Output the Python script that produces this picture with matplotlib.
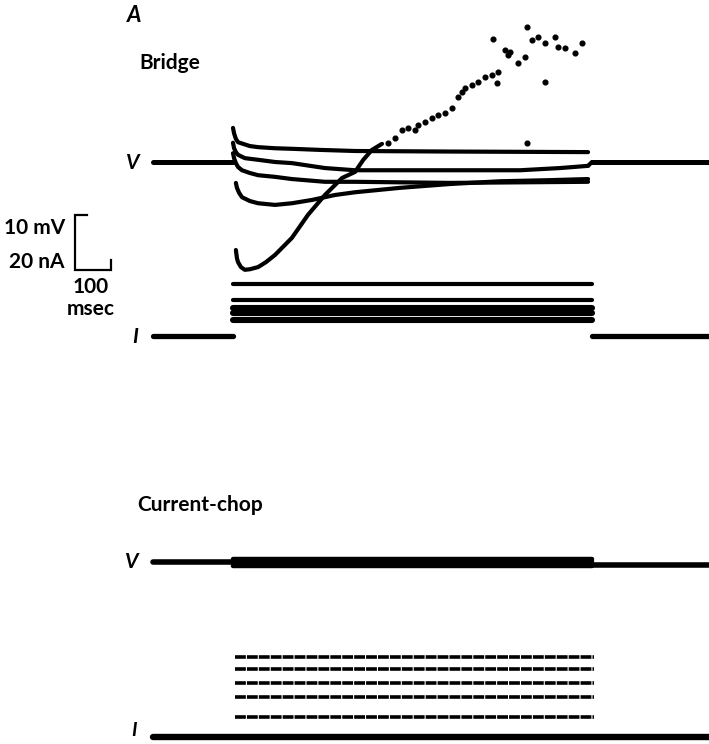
import matplotlib
matplotlib.use("Agg")
import matplotlib.pyplot as plt

# Time in ms from pulse onset, voltage in mV from rest, current in nA
PRE = [-223, 0]
PULSE = [0, 1000]
POST = [1000, 1326]

# Bridge: voltage responses during the current steps
bridge_a_t = [0, 3, 8, 14, 28, 47, 70, 117, 164, 242, 340, 605, 989]
bridge_a_v = [6.2, 5.2, 4.2, 3.6, 3.3, 2.9, 2.7, 2.5, 2.4, 2.2, 2.0, 1.9, 1.8]
bridge_b_t = [0, 3, 8, 14, 33, 70, 117, 164, 215, 256, 340, 605, 800, 911, 989]
bridge_b_v = [3.5, 2.5, 1.8, 1.3, 0.7, 0.4, 0.0, -0.2, -0.7, -1.1, -1.5, -1.5,
              -1.5, -1.1, -0.7]
bridge_c_t = [0, 3, 8, 14, 25, 47, 70, 117, 164, 256, 340, 605, 989]
bridge_c_v = [1.6, 0.7, -0.2, -0.9, -1.5, -2.0, -2.4, -2.7, -3.1, -3.6, -3.6,
              -3.8, -3.6]
bridge_d_t = [8, 11, 17, 25, 47, 70, 117, 164, 220, 284, 340, 465, 605, 744,
              883, 989]
bridge_d_v = [-3.8, -4.7, -5.6, -6.4, -7.1, -7.5, -7.8, -7.5, -6.9, -6.0, -5.5,
              -4.7, -4.0, -3.5, -3.3, -3.1]
bridge_e_t = [8, 11, 14, 22, 33, 47, 70, 92, 117, 164, 209, 256, 304, 340, 363,
              387, 415]
bridge_e_v = [-16.0, -17.5, -18.2, -19.1, -19.6, -19.5, -19.1, -18.2, -16.9,
              -13.8, -9.6, -6.0, -2.9, -1.8, 0.4, 2.2, 3.3]
# the steepest trace breaks up into scattered points
scatter_t = [432, 451, 471, 487, 507, 515, 535, 554, 571, 591, 610, 627, 638,
             646, 666, 683, 702, 722, 738, 735, 758, 766, 794, 813, 833, 850, 869,
             897, 905, 925, 953, 972, 869, 819, 724, 819, 772]
scatter_v = [3.5, 4.4, 5.8, 6.2, 5.8, 6.7, 7.3, 8.0, 8.5, 8.9, 9.8, 11.8, 12.7,
             13.5, 14.0, 14.5, 15.5, 15.8, 16.4, 14.4, 20.4, 19.5, 18.0, 19.1, 22.2,
             22.7, 21.6, 22.7, 20.9, 20.7, 19.8, 21.6, 14.5, 24.5, 22.4, 3.5, 20.0]

# Bridge: injected current steps
bridge_i_levels = [18.9, 13.1, 10.2, 8.2, 6.0]

# Current-chop: voltage stays near rest, currents
chop_v_levels = [0.5, 0.2, -0.2, -0.5, -0.7]
chop_v_post = -0.5
chop_i_levels = [29.1, 24.7, 19.6, 14.5, 7.3]

# layout in pixels
W, H = 709, 744
X0 = 233
PX_PER_MS = 0.359
PX_PER_MV = 5.5
PX_PER_NA = 2.75

fig = plt.figure(figsize=(W / 100, H / 100), dpi=100)


def overlay(base_px, px_per_unit):
    ax = fig.add_axes([0, 0, 1, 1])
    ax.set_xlim(-X0 / PX_PER_MS, (W - X0) / PX_PER_MS)
    ax.set_ylim(-(H - base_px) / px_per_unit, base_px / px_per_unit)
    ax.axis("off")
    ax.patch.set_alpha(0)
    return ax


kw = dict(color="black", solid_capstyle="round", solid_joinstyle="round")

# Bridge V
ax = overlay(162, PX_PER_MV)
ax.plot(PRE, [0, 0], lw=3.6, **kw)
ax.plot(POST, [0, 0], lw=3.6, **kw)
for t, v in [(bridge_a_t, bridge_a_v), (bridge_b_t, bridge_b_v),
             (bridge_c_t, bridge_c_v), (bridge_d_t, bridge_d_v),
             (bridge_e_t, bridge_e_v)]:
    ax.plot(t, v, lw=3.0, **kw)
ax.plot([989, 1000], [bridge_b_v[-1], 0], lw=3.0, **kw)
ax.plot(scatter_t, scatter_v, "o", color="black", ms=3.4)
# calibration bar: 10 mV / 20 nA, 100 msec
ax.plot([-407, -440, -440, -340, -340], [-9.6, -9.6, -19.6, -19.6, -17.8],
        color="black", lw=1.6, solid_joinstyle="miter")

# Bridge I
ax = overlay(336, PX_PER_NA)
ax.plot(PRE, [0, 0], lw=3.8, **kw)
ax.plot(POST, [0, 0], lw=3.8, **kw)
for k, lev in enumerate(bridge_i_levels):
    ax.plot(PULSE, [lev, lev], lw=3.0 if k < 2 else 4.4, **kw)

# Current-chop V
ax = overlay(562, PX_PER_MV)
ax.plot(PRE, [0, 0], lw=4.0, **kw)
ax.plot(POST, [chop_v_post, chop_v_post], lw=4.0, **kw)
for lev in chop_v_levels:
    ax.plot(PULSE, [lev, lev], lw=3.2, **kw)

# Current-chop I
ax = overlay(737, PX_PER_NA)
ax.plot([PRE[0], POST[1]], [0, 0], lw=4.6, **kw)
for lev in chop_i_levels:
    ax.plot([5, 1005], [lev, lev], lw=2.6, color="black", dashes=(3.0, 0.3))

# labels
def label(x, y, s, **k):
    fig.text(x / W, 1 - y / H, s, ha="center", va="center", color="black",
             family="Lato", **k)


label(134, 15, "A", fontsize=16, weight="bold", style="italic")
label(170, 63, "Bridge", fontsize=15, weight="bold")
label(133, 163, "V", fontsize=15, weight="bold", style="italic")
label(35, 228, "10 mV", fontsize=15, weight="bold")
label(37, 262, "20 nA", fontsize=15, weight="bold")
label(91, 287, "100", fontsize=15, weight="bold")
label(91, 309, "msec", fontsize=15, weight="bold")
label(135, 337, "I", fontsize=15, weight="bold", style="italic")
label(200, 505, "Current-chop", fontsize=15, weight="bold")
label(132, 562, "V", fontsize=15, weight="bold", style="italic")
label(134, 731, "I", fontsize=14, weight="bold", style="italic")

fig.savefig("out.png", dpi=100)
